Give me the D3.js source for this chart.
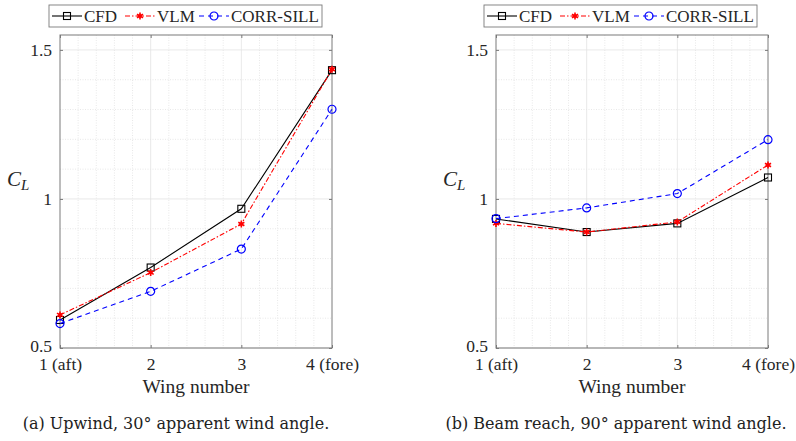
<!DOCTYPE html>
<html>
<head>
<meta charset="utf-8">
<script src="https://cdn.jsdelivr.net/npm/d3@7"></script>
<style>
  html, body { margin: 0; padding: 0; background: #fff; }
  svg { display: block; }
</style>
</head>
<body>
<svg id="fig" width="796" height="441"></svg>
<script>
// Wing positions and their tick labels
const wings = [1, 2, 3, 4];
const wingLabels = ["1 (aft)", "2", "3", "4 (fore)"];
const yTicks = [0.5, 1, 1.5];
const yTickLabels = ["0.5", "1", "1.5"];

// Lift coefficient per wing, upwind (30° AWA)
const upwindCFD  = [0.594, 0.770, 0.967, 1.432];
const upwindVLM  = [0.611, 0.753, 0.916, 1.435];
const upwindCORR = [0.582, 0.690, 0.832, 1.301];

// Lift coefficient per wing, beam reach (90° AWA)
const beamCFD  = [0.933, 0.889, 0.918, 1.072];
const beamVLM  = [0.918, 0.889, 0.923, 1.114];
const beamCORR = [0.934, 0.970, 1.018, 1.199];

const seriesNames = ["CFD", "VLM", "CORR-SILL"];
const captions = ["(a) Upwind, 30° apparent wind angle.",
                  "(b) Beam reach, 90° apparent wind angle."];

const styles = {
  "CFD":       { color: "#000000", dash: null,        symbol: "square" },
  "VLM":       { color: "#ff0000", dash: "5,2,1.5,2", symbol: "star" },
  "CORR-SILL": { color: "#0000ff", dash: "5,4",       symbol: "circle" }
};

const panels = [
  { left: 60,  right: 332, data: [upwindCFD, upwindVLM, upwindCORR], caption: captions[0],
    legendX: 49, captionX: 176 },
  { left: 496, right: 768, data: [beamCFD, beamVLM, beamCORR], caption: captions[1],
    legendX: 484, captionX: 616 }
];
// legend entry offsets inside the legend box
const legendLineX = [3, 76, 150];
const legendW = 273;

const plotTop = 35, plotBottom = 348;
const SERIF = '"Liberation Serif"';
const CAPTION_FONT = '"DejaVu Serif"';
const svg = d3.select("#fig");

function drawMarker(g, kind, color) {
  if (kind === "square") {
    g.append("rect").attr("x", -3.5).attr("y", -3.5).attr("width", 7).attr("height", 7)
      .attr("fill", "none").attr("stroke", color).attr("stroke-width", 1.1);
  } else if (kind === "circle") {
    g.append("circle").attr("r", 4).attr("fill", "none")
      .attr("stroke", color).attr("stroke-width", 1.2);
  } else {
    g.append("path").attr("d", d3.symbol(d3.symbolAsterisk, 34)())
      .attr("fill", "none").attr("stroke", color).attr("stroke-width", 1.6);
    g.append("circle").attr("r", 1.8).attr("fill", color);
  }
}

panels.forEach(p => {
  const x = d3.scaleLinear().domain([1, 4]).range([p.left, p.right]);
  const y = d3.scaleLinear().domain([0.5, 1.55]).range([plotBottom, plotTop]);
  const g = svg.append("g");

  // minor grid
  const xMinor = d3.range(1.2, 4, 0.2).filter(v => Math.abs(v - Math.round(v)) > 1e-6);
  const yMinor = d3.range(0.6, 1.55, 0.1).filter(v => Math.abs(v * 2 - Math.round(v * 2)) > 1e-6);
  g.selectAll(".xmin").data(xMinor).join("line")
    .attr("x1", d => x(d)).attr("x2", d => x(d)).attr("y1", plotTop).attr("y2", plotBottom)
    .attr("stroke", "#d8d8d8").attr("stroke-width", 0.6).attr("stroke-dasharray", "1,1.5");
  g.selectAll(".ymin").data(yMinor).join("line")
    .attr("x1", p.left).attr("x2", p.right).attr("y1", d => y(d)).attr("y2", d => y(d))
    .attr("stroke", "#d8d8d8").attr("stroke-width", 0.6).attr("stroke-dasharray", "1,1.5");

  // major grid
  g.selectAll(".xmaj").data(wings.slice(1, 3)).join("line")
    .attr("x1", d => x(d)).attr("x2", d => x(d)).attr("y1", plotTop).attr("y2", plotBottom)
    .attr("stroke", "#e3e3e3").attr("stroke-width", 0.8);
  g.selectAll(".ymaj").data(yTicks).join("line")
    .attr("x1", p.left).attr("x2", p.right).attr("y1", d => y(d)).attr("y2", d => y(d))
    .attr("stroke", "#e3e3e3").attr("stroke-width", 0.8);

  // axes with inward ticks
  const xAxis = d3.axisBottom(x).tickValues(wings).tickFormat((d, i) => wingLabels[i])
    .tickSizeInner(-3).tickSizeOuter(0);
  const yAxis = d3.axisLeft(y).tickValues(yTicks).tickFormat((d, i) => yTickLabels[i])
    .tickSizeInner(-3).tickSizeOuter(0).tickPadding(8);
  const gx = g.append("g").attr("transform", `translate(0,${plotBottom})`).call(xAxis);
  const gy = g.append("g").attr("transform", `translate(${p.left},0)`).call(yAxis);
  [gx, gy].forEach(a => {
    a.attr("font-family", null);
    a.select(".domain").remove();
    a.selectAll("line").attr("stroke", "#7a7a7a");
    a.selectAll("text").style("font-family", SERIF).style("font-size", "17.5px")
      .attr("fill", "#262626");
  });
  gx.selectAll("text").attr("y", 22).attr("dy", 0);
  gy.selectAll("text").filter(d => d === 0.5).attr("dy", "0.2em");
  // right/top ticks
  const gyr = g.append("g").attr("transform", `translate(${p.right},0)`)
    .call(d3.axisRight(y).tickValues(yTicks).tickFormat("").tickSizeInner(-3).tickSizeOuter(0));
  gyr.select(".domain").remove();
  gyr.selectAll("line").attr("stroke", "#7a7a7a");
  const gxt = g.append("g").attr("transform", `translate(0,${plotTop})`)
    .call(d3.axisTop(x).tickValues(wings).tickFormat("").tickSizeInner(-3).tickSizeOuter(0));
  gxt.select(".domain").remove();
  gxt.selectAll("line").attr("stroke", "#7a7a7a");

  // box
  g.append("rect").attr("x", p.left).attr("y", plotTop)
    .attr("width", p.right - p.left).attr("height", plotBottom - plotTop)
    .attr("fill", "none").attr("stroke", "#7a7a7a").attr("stroke-width", 1);

  // axis titles
  const cl = g.append("text").attr("x", p.left - 53).attr("y", 186)
    .style("font-family", SERIF).style("font-size", "21px").attr("fill", "#262626");
  cl.append("tspan").style("font-style", "italic").text("C");
  cl.append("tspan").style("font-style", "italic").style("font-size", "15px")
    .attr("dy", 4).text("L");
  g.append("text").attr("x", (p.left + p.right) / 2).attr("y", 393)
    .attr("text-anchor", "middle").style("font-family", SERIF).style("font-size", "19.5px")
    .attr("fill", "#262626").text("Wing number");

  // series
  const line = d3.line().x((d, i) => x(wings[i])).y(d => y(d));
  seriesNames.forEach((name, si) => {
    const st = styles[name];
    const vals = p.data[si];
    g.append("path").datum(vals).attr("d", line).attr("fill", "none")
      .attr("stroke", st.color).attr("stroke-width", 1.1)
      .attr("stroke-dasharray", st.dash);
    vals.forEach((v, i) => {
      const m = g.append("g").attr("transform", `translate(${x(wings[i])},${y(v)})`);
      drawMarker(m, st.symbol, st.color);
    });
  });

  // legend
  const lg = g.append("g").attr("transform", `translate(${p.legendX},5)`);
  lg.append("rect").attr("width", legendW).attr("height", 22)
    .attr("fill", "#fff").attr("stroke", "#7a7a7a").attr("stroke-width", 0.9);
  seriesNames.forEach((name, i) => {
    const st = styles[name];
    const lx = legendLineX[i];
    lg.append("line").attr("x1", lx).attr("x2", lx + 30).attr("y1", 11).attr("y2", 11)
      .attr("stroke", st.color).attr("stroke-width", 1.1).attr("stroke-dasharray", st.dash);
    const m = lg.append("g").attr("transform", `translate(${lx + 15},11)`);
    drawMarker(m, st.symbol, st.color);
    lg.append("text").attr("x", lx + 32).attr("y", 17)
      .style("font-family", SERIF).style("font-size", "17px")
      .attr("fill", "#262626").text(name);
  });

  // caption
  g.append("text").attr("x", p.captionX).attr("y", 429)
    .attr("text-anchor", "middle").style("font-family", CAPTION_FONT)
    .style("font-size", "16px").attr("fill", "#222").text(p.caption);
});
</script>
</body>
</html>
